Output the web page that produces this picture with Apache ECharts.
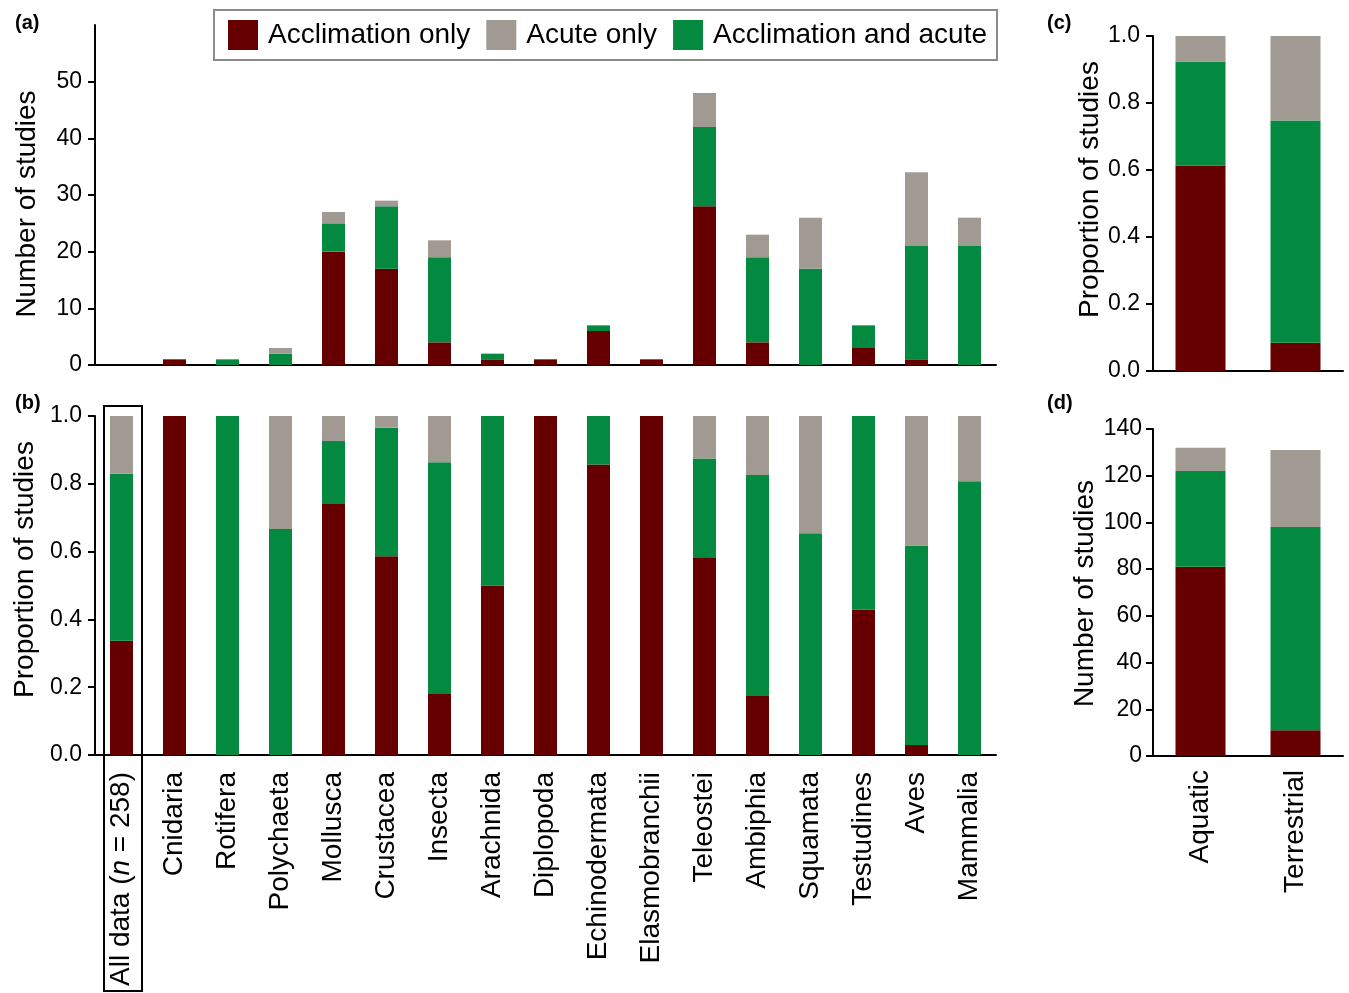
<!DOCTYPE html>
<html>
<head>
<meta charset="utf-8">
<title>Acclimation and acute thermal tolerance studies by taxon</title>
<script src="https://cdn.jsdelivr.net/npm/echarts@6/dist/echarts.min.js"></script>
<style>
  html, body { margin: 0; padding: 0; background: #fff; }
  #chart { width: 1349px; height: 993px; }
</style>
</head>
<body>
<div id="chart"></div>
<script>
// Study counts per taxon (panel a); proportions (panel b) are derived from these
const taxa = ['Cnidaria', 'Rotifera', 'Polychaeta', 'Mollusca', 'Crustacea', 'Insecta',
  'Arachnida', 'Diplopoda', 'Echinodermata', 'Elasmobranchii', 'Teleostei', 'Ambiphia',
  'Squamata', 'Testudines', 'Aves', 'Mammalia'];
const acclimationOnly   = [1, 0, 0, 20, 17, 4, 1, 1, 6, 1, 28, 4, 0, 3, 1, 0];
const acclimationAcute  = [0, 1, 2, 5, 11, 15, 1, 0, 1, 0, 14, 15, 17, 4, 20, 21];
const acuteOnly         = [0, 0, 1, 2, 1, 3, 0, 0, 0, 0, 6, 4, 9, 0, 13, 5];

// Study counts per habitat (panel d); proportions (panel c) are derived from these
const habitats = ['Aquatic', 'Terrestrial'];
const habAcclimationOnly  = [81, 11];
const habAcclimationAcute = [41, 87];
const habAcuteOnly        = [10, 33];

const countTicks = [0, 10, 20, 30, 40, 50];

const NAMES = ['Acclimation only', 'Acclimation and acute', 'Acute only'];
const COLORS = { 'Acclimation only': '#660000', 'Acclimation and acute': '#038a40', 'Acute only': '#a19a92' };
const FONT = 'Liberation Sans, Arial, Helvetica, sans-serif';

const sum = a => a.reduce((s, v) => s + v, 0);
const totalAcc = sum(acclimationOnly), totalBoth = sum(acclimationAcute), totalAcute = sum(acuteOnly);
const nAll = totalAcc + totalBoth + totalAcute;
const allLabel = 'All data (n = ' + nAll + ')';
const categories = [allLabel].concat(taxa);

function proportions(a, b, c) {
  return a.map((_, i) => {
    const t = a[i] + b[i] + c[i];
    return [a[i] / t, b[i] / t, c[i] / t];
  });
}

// Panel a: first slot (all data) is empty
const countSeriesData = [
  [null].concat(acclimationOnly),
  [null].concat(acclimationAcute),
  [null].concat(acuteOnly)
];
// Panel b: all data + each taxon
const propRows = proportions([totalAcc].concat(acclimationOnly), [totalBoth].concat(acclimationAcute), [totalAcute].concat(acuteOnly));
const propSeriesData = [0, 1, 2].map(k => propRows.map(r => r[k]));
// Panels c and d
const habCountData = [habAcclimationOnly, habAcclimationAcute, habAcuteOnly];
const habRows = proportions(habAcclimationOnly, habAcclimationAcute, habAcuteOnly);
const habPropData = [0, 1, 2].map(k => habRows.map(r => r[k]));

const axisLine = { show: true, lineStyle: { color: '#000', width: 2 } };
const yTick = { show: true, length: 7, lineStyle: { color: '#000', width: 2 } };
const tickLabel = { color: '#000', fontSize: 23, fontFamily: FONT, margin: 13 };
const xLabel = { color: '#000', fontSize: 28, fontFamily: FONT, rotate: 90, margin: 17 };

// axis title; padding shifts the rotated text along the axis (positive = upward)
function nameStyle(shift) {
  return {
    color: '#000', fontSize: 28, fontFamily: FONT,
    padding: shift >= 0 ? [0, 0, 0, 2 * shift] : [0, -2 * shift, 0, 0]
  };
}

function catAxis(grid, data, label) {
  return {
    type: 'category', gridIndex: grid, data: data,
    axisLine: axisLine, axisTick: { show: false },
    axisLabel: label ? label : { show: false },
    splitLine: { show: false }
  };
}

const propAxisLabel = Object.assign({}, tickLabel, { formatter: v => v.toFixed(1) });

function makeSeries(dataSets, xi, stack, width) {
  return NAMES.map((name, k) => ({
    name: name, type: 'bar', stack: stack,
    xAxisIndex: xi, yAxisIndex: xi,
    barWidth: width,
    itemStyle: { color: COLORS[name] },
    emphasis: { disabled: true },
    data: dataSets[k]
  }));
}

const option = {
  animation: false,
  backgroundColor: '#fff',
  textStyle: { fontFamily: FONT, color: '#000' },
  legend: {
    data: ['Acclimation only', 'Acute only', 'Acclimation and acute'],
    left: 214, top: 10,
    padding: [10, 10, 10, 14],
    itemWidth: 30, itemHeight: 30, itemGap: 16,
    icon: 'rect',
    borderColor: '#8a8a8a', borderWidth: 2,
    textStyle: { color: '#000', fontSize: 28, fontFamily: FONT, padding: [0, 0, 0, 5] },
    selectedMode: false
  },
  grid: [
    { left: 95, top: 25, width: 901, height: 340 },
    { left: 95, top: 416, width: 901, height: 339 },
    { left: 1153, top: 36, width: 190, height: 335 },
    { left: 1153, top: 429, width: 190, height: 327 }
  ],
  xAxis: [
    catAxis(0, categories, null),
    catAxis(1, categories, Object.assign({}, xLabel, {
      interval: 0,
      formatter: (v, i) => i === 0
        ? '{r|All data (}{i|n}{r| = ' + nAll + ')}'
        : v,
      rich: {
        r: { fontSize: 28, fontFamily: FONT, color: '#000' },
        i: { fontSize: 28, fontFamily: FONT, color: '#000', fontStyle: 'italic' }
      }
    })),
    catAxis(2, habitats, null),
    catAxis(3, habitats, Object.assign({}, xLabel, { interval: 0, margin: 14 }))
  ],
  yAxis: [
    {
      type: 'value', gridIndex: 0, min: 0, max: 60, interval: 10,
      name: 'Number of studies', nameLocation: 'middle', nameGap: 54, nameTextStyle: nameStyle(-9),
      axisLine: axisLine,
      axisTick: Object.assign({ customValues: countTicks }, yTick),
      axisLabel: Object.assign({ customValues: countTicks }, tickLabel),
      splitLine: { show: false }
    },
    {
      type: 'value', gridIndex: 1, min: 0, max: 1, interval: 0.2,
      name: 'Proportion of studies', nameLocation: 'middle', nameGap: 56, nameTextStyle: nameStyle(16),
      axisLine: axisLine, axisTick: yTick, axisLabel: propAxisLabel,
      splitLine: { show: false }
    },
    {
      type: 'value', gridIndex: 2, min: 0, max: 1, interval: 0.2,
      name: 'Proportion of studies', nameLocation: 'middle', nameGap: 48, nameTextStyle: nameStyle(14),
      axisLine: axisLine, axisTick: yTick, axisLabel: propAxisLabel,
      splitLine: { show: false }
    },
    {
      type: 'value', gridIndex: 3, min: 0, max: 140, interval: 20,
      name: 'Number of studies', nameLocation: 'middle', nameGap: 53, nameTextStyle: nameStyle(-1),
      axisLine: axisLine, axisTick: yTick, axisLabel: Object.assign({}, tickLabel, { margin: 11 }),
      splitLine: { show: false }
    }
  ],
  series: [].concat(
    makeSeries(countSeriesData, 0, 'taxonCounts', 23),
    makeSeries(propSeriesData, 1, 'taxonProps', 23),
    makeSeries(habPropData, 2, 'habitatProps', 50),
    makeSeries(habCountData, 3, 'habitatCounts', 50)
  ),
  graphic: [
    { type: 'text', left: 15, top: 13, style: { text: '(a)', font: 'bold 20px ' + FONT, fill: '#000' } },
    { type: 'text', left: 15, top: 393, style: { text: '(b)', font: 'bold 20px ' + FONT, fill: '#000' } },
    { type: 'text', left: 1047, top: 13, style: { text: '(c)', font: 'bold 20px ' + FONT, fill: '#000' } },
    { type: 'text', left: 1047, top: 393, style: { text: '(d)', font: 'bold 20px ' + FONT, fill: '#000' } },
    // frame around the pooled "all data" bar and its label
    { type: 'rect', shape: { x: 104, y: 406, width: 38, height: 585 },
      style: { fill: 'none', stroke: '#000', lineWidth: 2 }, z: 10 }
  ]
};

const chart = echarts.init(document.getElementById('chart'), null, { renderer: 'canvas' });
chart.setOption(option);
</script>
</body>
</html>
